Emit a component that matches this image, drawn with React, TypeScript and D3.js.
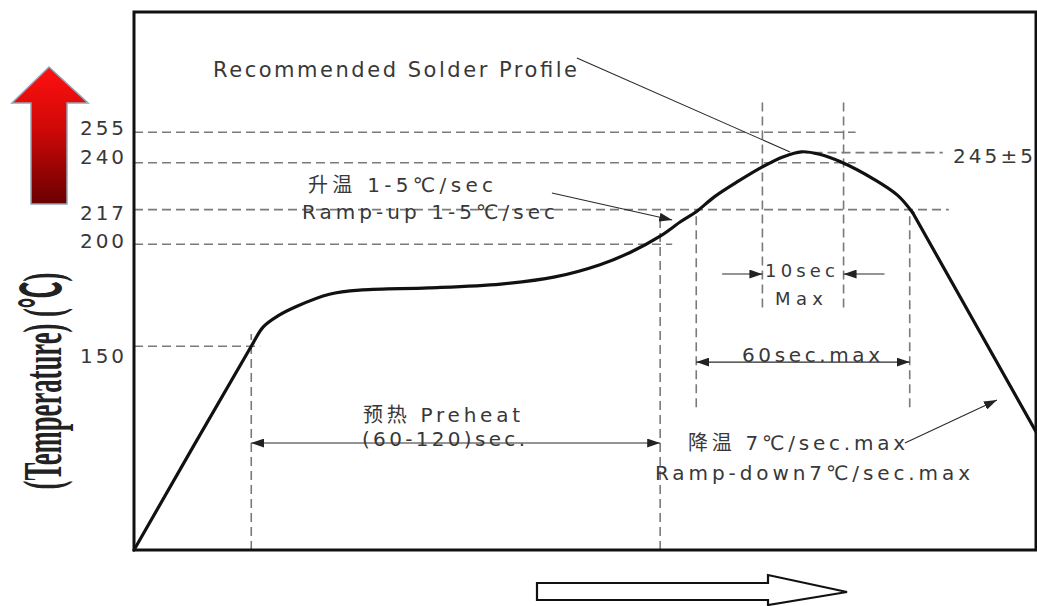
import React from "react";
import * as d3 from "d3";

// reflow profile (time in s, temperature in °C)
// ramp + soak + peak: smooth, cool-down: straight
const smoothTime = [0, 39, 43, 48, 54, 65, 76, 98, 122, 140, 155, 165, 175, 182, 187, 193, 201, 209, 216, 222, 228, 235, 246, 254, 259];
const smoothTemp = [50, 150, 159.5, 165, 169.5, 175.5, 177.6, 178.6, 180.5, 184, 190, 196, 204, 211.3, 216, 223.3, 231, 238, 243, 245.4, 244.2, 240.5, 232, 224, 215.5];
const coolTime = [259, 300];
const coolTemp = [215.5, 108];

const tickTemps = [255, 240, 217, 200, 150];

// horizontal guide lines: temperature, from time, to time
const hGuideTemp = [255, 240, 217, 200, 150, 245];
const hGuideFrom = [0, 0, 0, 0, 0, 226];
const hGuideTo = [240, 240, 271, 179, 42, 269];

// vertical guide lines: time, low temp, high temp
const vGuideTime = [39, 175, 187, 209, 236, 258];
const vGuideLow = [50, 50, 120, 169, 169, 120];
const vGuideHigh = [156, 212, 217, 272, 272, 217];

const W = 1037;
const H = 606;

export default function App() {
  const x = d3.scaleLinear().domain([0, 300]).range([134, 1036]);
  const y = d3.scaleLinear().domain([50, 314]).range([550, 12]);

  const zip = (ts: number[], vs: number[]) => ts.map((t, i) => [t, vs[i]] as [number, number]);
  const straight = d3.line<[number, number]>().x((d) => x(d[0])).y((d) => y(d[1]));
  const smooth = d3
    .line<[number, number]>()
    .x((d) => x(d[0]))
    .y((d) => y(d[1]))
    .curve(d3.curveCatmullRom.alpha(0.5));

  const profile = [smooth(zip(smoothTime, smoothTemp)), straight(zip(coolTime, coolTemp))];

  const dash = { stroke: "#7a7a7a", strokeWidth: 1.6, strokeDasharray: "9,5", fill: "none" };
  const txt = { fontFamily: "'DejaVu Sans', 'Noto Sans CJK SC', sans-serif", fill: "#383838" };
  const labelNudge: Record<number, number> = { 255: 3, 240: 1, 217: 10, 200: 4, 150: 17 };

  const arrowLine = { stroke: "#2a2a2a", strokeWidth: 1.1, fill: "none" };

  return (
    <svg width={W} height={H} style={{ position: "absolute", left: 0, top: 0, background: "#fff" }}>
      <defs>
        <marker id="ah" viewBox="0 0 13 9" refX={13} refY={4.5} markerWidth={13} markerHeight={9}
          markerUnits="userSpaceOnUse" orient="auto-start-reverse">
          <path d="M0,0L13,4.5L0,9z" fill="#222" />
        </marker>
        <linearGradient id="red" x1="0" y1="0" x2="0" y2="1">
          <stop offset="0%" stopColor="#ff1010" />
          <stop offset="45%" stopColor="#d00808" />
          <stop offset="100%" stopColor="#6a0000" />
        </linearGradient>
      </defs>

      {/* guide lines */}
      {hGuideTemp.map((v, i) => (
        <line key={"h" + i} x1={x(hGuideFrom[i])} x2={x(hGuideTo[i])} y1={y(v)} y2={y(v)} style={dash} />
      ))}
      {vGuideTime.map((t, i) => (
        <line key={"v" + i} x1={x(t)} x2={x(t)} y1={y(vGuideLow[i])} y2={y(vGuideHigh[i])} style={dash} />
      ))}

      {/* profile */}
      {profile.map((d, i) => (
        <path key={i} d={d || ""} fill="none" stroke="#111" strokeWidth={3.2}
          strokeLinejoin="round" strokeLinecap="round" />
      ))}

      {/* frame */}
      <rect x={134} y={12} width={902} height={538} fill="none" stroke="#111" strokeWidth={3} />

      {/* tick labels */}
      {tickTemps.map((v) => (
        <text key={v} x={124} y={y(v) + labelNudge[v]} textAnchor="end" fontSize={20}
          textLength={44} lengthAdjust="spacing" style={txt}>{v}</text>
      ))}

      {/* dimension arrows */}
      <line x1={x(39)} x2={x(175)} y1={y(102.5)} y2={y(102.5)} style={arrowLine}
        markerStart="url(#ah)" markerEnd="url(#ah)" />
      <line x1={x(187)} x2={x(258)} y1={y(142.2)} y2={y(142.2)} style={arrowLine}
        markerStart="url(#ah)" markerEnd="url(#ah)" />
      <line x1={x(195.6)} x2={x(209)} y1={y(185.4)} y2={y(185.4)} style={arrowLine} markerEnd="url(#ah)" />
      <line x1={x(249.6)} x2={x(236)} y1={y(185.4)} y2={y(185.4)} style={arrowLine} markerEnd="url(#ah)" />

      {/* leaders */}
      <line x1={x(147.3)} y1={y(291.4)} x2={x(218.2)} y2={y(245.3)} style={arrowLine} />
      <line x1={x(139)} y1={y(225.2)} x2={x(179)} y2={y(211.9)} style={arrowLine} markerEnd="url(#ah)" />
      <line x1={x(256.4)} y1={y(102.5)} x2={x(287)} y2={y(123.6)} style={arrowLine} markerEnd="url(#ah)" />

      {/* annotations */}
      <text x={213} y={77} fontSize={21} textLength={364} lengthAdjust="spacing" style={txt}>Recommended Solder Profile</text>
      <text x={308} y={192} fontSize={20} textLength={185} lengthAdjust="spacing" style={txt}>升温 1-5℃/sec</text>
      <text x={302} y={219} fontSize={20} textLength={253} lengthAdjust="spacing" style={txt}>Ramp-up 1-5℃/sec</text>
      <text x={765} y={277} fontSize={18} textLength={70} lengthAdjust="spacing" style={txt}>10sec</text>
      <text x={775} y={305} fontSize={18} textLength={48} lengthAdjust="spacing" style={txt}>Max</text>
      <text x={742} y={362} fontSize={20} textLength={138} lengthAdjust="spacing" style={txt}>60sec.max</text>
      <text x={363} y={422} fontSize={20} textLength={157} lengthAdjust="spacing" style={txt}>预热 Preheat</text>
      <text x={362} y={446} fontSize={20} textLength={163} lengthAdjust="spacing" style={txt}>(60-120)sec.</text>
      <text x={688} y={450} fontSize={20} textLength={217} lengthAdjust="spacing" style={txt}>降温 7℃/sec.max</text>
      <text x={655} y={480} fontSize={20} textLength={315} lengthAdjust="spacing" style={txt}>Ramp-down7℃/sec.max</text>
      <text x={953} y={163} fontSize={20} textLength={80} lengthAdjust="spacing" style={txt}>245±5</text>

      {/* axis title */}
      <text transform="translate(61,381) rotate(-90)" textAnchor="middle" fontSize={54} fontWeight="bold"
        textLength={217} lengthAdjust="spacingAndGlyphs"
        style={{ fontFamily: "'Liberation Serif', 'Noto Sans CJK SC', serif", fill: "#222" }}>
        (Temperature) (℃)
      </text>

      {/* red temperature arrow */}
      <path d="M49,67 L88,103 L67,103 L67,204 L31,204 L31,103 L12,103 Z" fill="url(#red)"
        stroke="#8fa6b8" strokeWidth={1.5} strokeLinejoin="miter" />

      {/* hollow time arrow */}
      <path d="M537,583 L768,583 L768,575 L847,592 L768,605 L768,600 L537,600 Z" fill="#fff"
        stroke="#111" strokeWidth={2.2} />
    </svg>
  );
}
